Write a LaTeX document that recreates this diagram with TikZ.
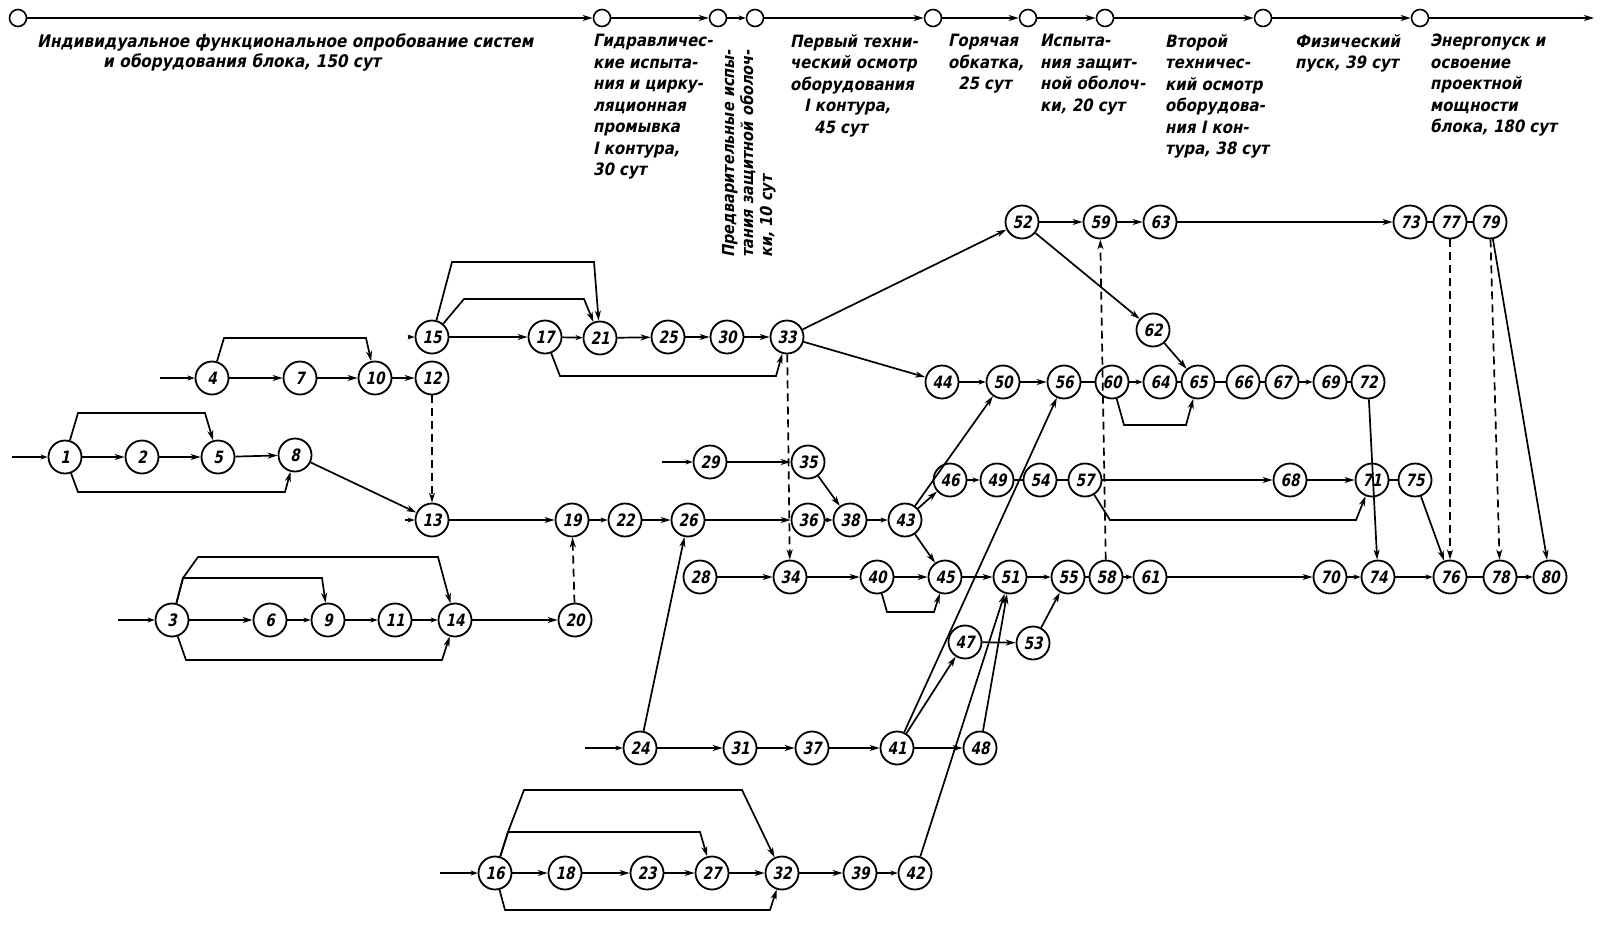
\documentclass[tikz,border=0pt]{standalone}
\usepackage{fontspec}
\setmainfont{DejaVu Sans}[FakeSlant=0.2,FakeStretch=0.88]
\newfontfamily\numfont{DejaVu Sans}[FakeSlant=0.2,FakeStretch=0.8]
\usetikzlibrary{arrows.meta}
\begin{document}
\begin{tikzpicture}[x=1pt,y=-1pt,
  ev/.style={circle,draw,line width=1.8pt,minimum size=33pt,inner sep=0pt,fill=white,font=\numfont\bfseries\fontsize{17}{17}\selectfont},
  tl/.style={circle,draw,line width=1.6pt,minimum size=17pt,inner sep=0pt,fill=white},
  arr/.style={line width=1.7pt,-{Stealth[length=10pt,width=6pt,inset=3pt]}},
  sarr/.style={line width=1.7pt,-{Stealth[length=7pt,width=5pt,inset=2pt]}},
  lnk/.style={line width=1.7pt},
  dsh/.style={arr,dash pattern=on 8pt off 5pt},
  lab/.style={font=\bfseries\fontsize{17}{21.5}\selectfont,align=left,anchor=north west,inner sep=0pt}]
\useasboundingbox (0,0) rectangle (1602,937);
% timeline
\node[tl] (t0) at (18,18) {};
\node[tl] (t1) at (602,18) {};
\node[tl] (t2) at (718,18) {};
\node[tl] (t3) at (755,18) {};
\node[tl] (t4) at (933,18) {};
\node[tl] (t5) at (1028,18) {};
\node[tl] (t6) at (1105,18) {};
\node[tl] (t7) at (1263,18) {};
\node[tl] (t8) at (1420,18) {};
\coordinate (tend) at (1594,18);
\draw[arr] (t0)--(t1); \draw[arr] (t1)--(t2); \draw[sarr] (t2)--(t3);
\draw[arr] (t3)--(t4); \draw[arr] (t4)--(t5); \draw[arr] (t5)--(t6);
\draw[arr] (t6)--(t7); \draw[arr] (t7)--(t8); \draw[arr] (t8)--(tend);
% labels
\node[lab,font=\bfseries\fontsize{17.4}{20}\selectfont] (L0) at (37,34) {Индивидуальное функциональное опробование систем\\\hspace*{66pt}и оборудования блока, 150 сут};
\node[lab] (L1) at (593,34) {Гидравличес-\\кие испыта-\\ния и цирку-\\ляционная\\промывка\\I контура,\\30 сут};
\node[lab,font=\bfseries\fontsize{16.5}{19}\selectfont,rotate=90] (L2) at (722,258) {Предварительные испы-\\тания защитной оболоч-\\ки, 10 сут};
\node[lab] (L3) at (790,34) {Первый техни-\\ческий осмотр\\оборудования\\\hspace*{14pt}I контура,\\\hspace*{24pt}45 сут};
\node[lab] (L4) at (948,34) {Горячая\\обкатка,\\\hspace*{10pt}25 сут};
\node[lab] (L5) at (1040,34) {Испыта-\\ния защит-\\ной оболоч-\\ки, 20 сут};
\node[lab] (L6) at (1165,34) {Второй\\техничес-\\кий осмотр\\оборудова-\\ния I кон-\\тура, 38 сут};
\node[lab] (L7) at (1295,34) {Физический\\пуск, 39 сут};
\node[lab] (L8) at (1430,34) {Энергопуск и\\освоение\\проектной\\мощности\\блока, 180 сут};
% events
\foreach \n/\x/\y in {1/65/457,2/142/457,5/218/457,8/295/455,
  4/212/378,7/300/378,10/375/378,12/432/378,
  15/432/337,17/545/337,21/600/338,25/668/337,30/727/337,33/787/337,
  13/432/520,19/572/520,22/625/520,26/688/520,36/808/520,38/850/520,43/905/520,
  3/172/620,6/270/620,9/328/620,11/395/620,14/455/620,20/575/620,
  29/710/462,35/808/462,
  28/700/577,34/790/577,40/877/577,45/945/577,51/1010/577,55/1068/577,58/1106/577,61/1150/577,70/1330/577,74/1378/577,76/1450/577,78/1500/577,80/1550/577,
  46/950/480,49/997/480,54/1040/480,57/1085/480,68/1290/480,71/1372/480,75/1415/480,
  44/942/382,50/1003/382,56/1064/382,60/1112/382,64/1160/382,65/1198/382,66/1243/382,67/1282/382,69/1330/382,72/1368/382,
  52/1022/222,59/1100/222,63/1160/222,73/1410/222,77/1450/222,79/1490/222,
  62/1153/330,47/965/642,53/1033/643,
  24/640/748,31/740/748,37/812/748,41/897/748,48/980/748,
  16/495/873,18/565/873,23/647/873,27/712/873,32/782/873,39/860/873,42/915/873}
  {\node[ev] (n\n) at (\x,\y) {\n};}
% free starts
\coordinate (s1) at (12,457); \coordinate (s4) at (160,378);
\coordinate (s3) at (118,620); \coordinate (s15) at (408,337);
\coordinate (s13) at (405,520); \coordinate (s29) at (662,462);
\coordinate (s24) at (585,748); \coordinate (s16) at (440,873);
\foreach \n in {1,4,3,15,13,29,24,16} {\draw[sarr] (s\n) -- (n\n);}
% group 1
\draw[arr] (n1)--(n2); \draw[arr] (n2)--(n5); \draw[arr] (n5)--(n8);
\draw[arr] (n1) -- (78,413) -- (205,413) -- (n5);
\draw[arr] (n1) -- (78,492) -- (285,492) -- (n8);
\draw[arr] (n8)--(n13);
% group 4
\draw[arr] (n4)--(n7); \draw[arr] (n7)--(n10); \draw[arr] (n10)--(n12);
\draw[arr] (n4) -- (224,338) -- (366,338) -- (n10);
\draw[dsh] (n12)--(n13);
% group 15
\draw[arr] (n15)--(n17); \draw[sarr] (n17)--(n21); \draw[arr] (n21)--(n25);
\draw[arr] (n25)--(n30); \draw[arr] (n30)--(n33);
\draw[arr] (n15) -- (452,262) -- (594,262) -- (n21);
\draw[arr] (n15) -- (464,299) -- (584,299) -- (n21);
\draw[arr] (n17) -- (560,376) -- (776,376) -- (n33);
\draw[arr] (n33)--(n52); \draw[arr] (n33)--(n44);
\draw[dsh] (n33)--(n34);
% row 13
\draw[arr] (n13)--(n19); \draw[sarr] (n19)--(n22); \draw[arr] (n22)--(n26);
\draw[arr] (n26)--(n36); \draw[sarr] (n36)--(n38); \draw[sarr] (n38)--(n43);
% group 3
\draw[arr] (n3)--(n6); \draw[sarr] (n6)--(n9); \draw[sarr] (n9)--(n11);
\draw[sarr] (n11)--(n14); \draw[arr] (n14)--(n20);
\draw[arr] (n3) -- (183,578) -- (322,578) -- (n9);
\draw[arr] (n3) -- (183,578) -- (198,557) -- (438,557) -- (n14);
\draw[arr] (n3) -- (186,660) -- (442,660) -- (n14);
\draw[dsh] (n20)--(n19);
% 29
\draw[arr] (n29)--(n35); \draw[arr] (n35)--(n38);
% 43
\draw[arr] (n43)--(n46); \draw[arr] (n43)--(n45); \draw[arr] (n43)--(n50);
% row 28
\draw[arr] (n28)--(n34); \draw[arr] (n34)--(n40); \draw[arr] (n40)--(n45);
\draw[arr] (n45)--(n51); \draw[sarr] (n51)--(n55); \draw[lnk] (n55)--(n58);
\draw[sarr] (n58)--(n61); \draw[arr] (n61)--(n70); \draw[sarr] (n70)--(n74);
\draw[sarr] (n74)--(n76); \draw[lnk] (n76)--(n78); \draw[sarr] (n78)--(n80);
\draw[arr] (n40) -- (887,612) -- (934,612) -- (n45);
% group 24
\draw[arr] (n24)--(n26); \draw[arr] (n24)--(n31); \draw[arr] (n31)--(n37);
\draw[arr] (n37)--(n41); \draw[arr] (n41)--(n48); \draw[arr] (n41)--(n47);
\draw[arr] (n41)--(n56); \draw[arr] (n48)--(n51); \draw[arr] (n42)--(n51);
\draw[arr] (n47)--(n53); \draw[arr] (n53)--(n55);
% group 16
\draw[arr] (n16)--(n18); \draw[arr] (n18)--(n23); \draw[arr] (n23)--(n27);
\draw[arr] (n27)--(n32); \draw[arr] (n32)--(n39); \draw[sarr] (n39)--(n42);
\draw[arr] (n16) -- (508,832) -- (700,832) -- (n27);
\draw[arr] (n16) -- (508,832) -- (524,790) -- (742,790) -- (n32);
\draw[arr] (n16) -- (505,910) -- (770,910) -- (n32);
% row 46
\draw[sarr] (n46)--(n49); \draw[lnk] (n49)--(n54); \draw[lnk] (n54)--(n57);
\draw[arr] (n57)--(n68); \draw[arr] (n68)--(n71); \draw[lnk] (n71)--(n75);
\draw[arr] (n75)--(n76);
\draw[arr] (n57) -- (1110,520) -- (1356,520) -- (n71);
% row 44
\draw[sarr] (n44)--(n50); \draw[arr] (n50)--(n56); \draw[lnk] (n56)--(n60);
\draw[sarr] (n60)--(n64); \draw[lnk] (n64)--(n65); \draw[lnk] (n65)--(n66);
\draw[lnk] (n66)--(n67); \draw[sarr] (n67)--(n69); \draw[lnk] (n69)--(n72);
\draw[arr] (n60) -- (1124,425) -- (1186,425) -- (n65);
\draw[arr] (n72)--(n74);
% top row
\draw[arr] (n52)--(n59); \draw[arr] (n59)--(n63); \draw[arr] (n63)--(n73);
\draw[lnk] (n73)--(n77); \draw[lnk] (n77)--(n79);
\draw[arr] (n52)--(n62); \draw[arr] (n62)--(n65);
\draw[dsh] (n58)--(n59); \draw[dsh] (n77)--(n76); \draw[dsh] (n79)--(n78);
\draw[arr] (n79)--(n80);
\end{tikzpicture}
\end{document}
